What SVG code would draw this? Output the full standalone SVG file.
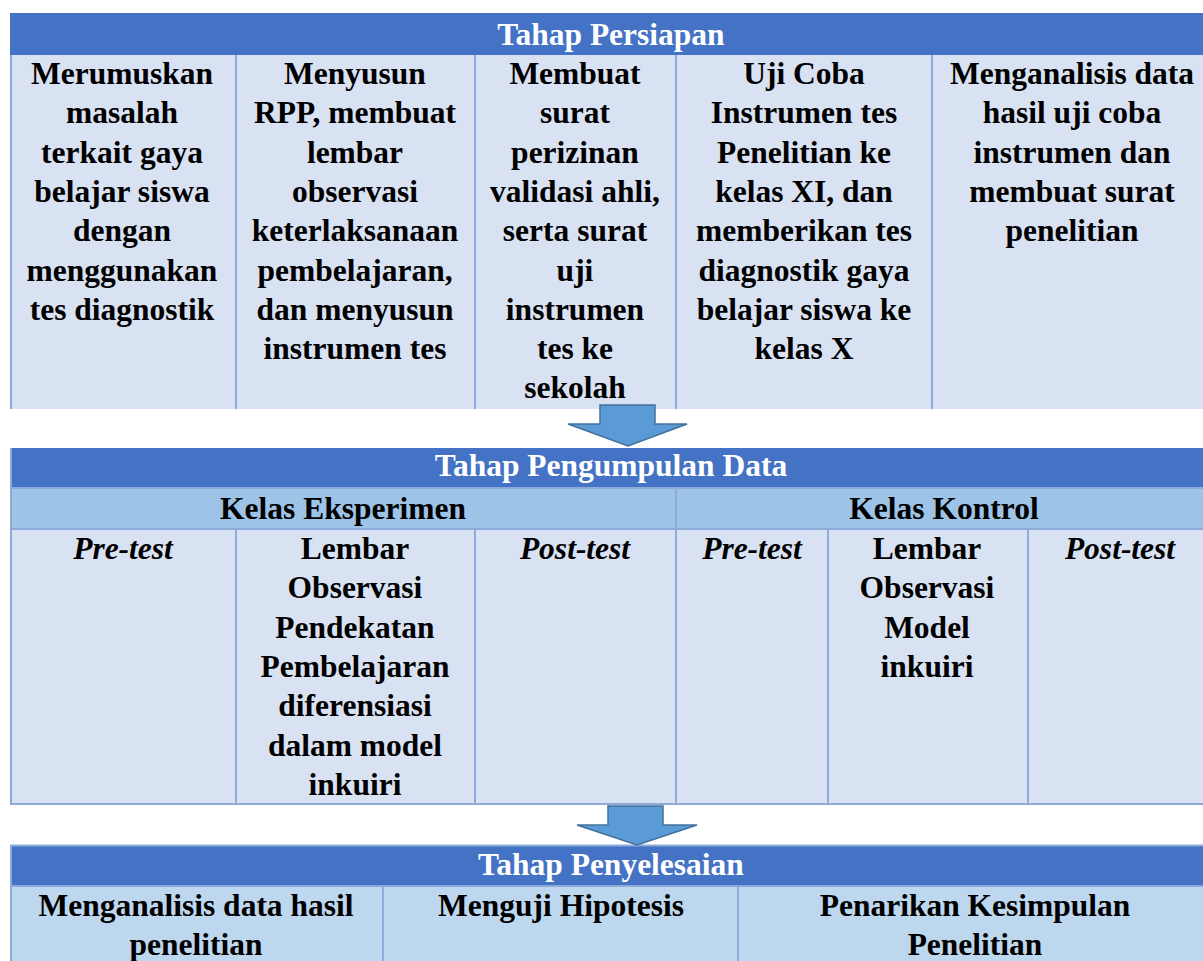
<svg xmlns="http://www.w3.org/2000/svg" width="1203" height="961" viewBox="0 0 1203 961">
<style>
text{font-family:'Liberation Serif','DejaVu Serif',serif;font-weight:700;font-size:31.5px;text-anchor:middle;fill:#000}
.hd{fill:#4472C4}
.hdt{fill:#fff}
.cell{fill:#D9E2F3}
.sub{fill:#9DC3E6}
.fin{fill:#BDD7EE}
.bd{stroke:#8EAADB;stroke-width:2;fill:none}
.it{font-style:italic}
.arrow{fill:#5B9BD5;stroke:#41719C;stroke-width:1.5;stroke-linejoin:miter}
</style>
<rect width="1203" height="961" fill="#fff"/>

<g id="persiapan">
<rect class="hd" x="10" y="13" width="1202" height="42"/>
<rect class="cell" x="10" y="55" width="1202" height="354"/>
<path class="bd" d="M11,55V409M236,55V409M475,55V409M676,55V409M932,55V409"/>
<text class="hdt" x="611" y="45" font-family="Liberation Serif">Tahap Persiapan</text>
</g>
<g id="p1"><text x="122" y="84"><tspan x="122">Merumuskan</tspan><tspan x="122" dy="39.3">masalah</tspan><tspan x="122" dy="39.3">terkait gaya</tspan><tspan x="122" dy="39.3">belajar siswa</tspan><tspan x="122" dy="39.3">dengan</tspan><tspan x="122" dy="39.3">menggunakan</tspan><tspan x="122" dy="39.3">tes diagnostik</tspan></text></g>
<g id="p2"><text x="355" y="84"><tspan x="355">Menyusun</tspan><tspan x="355" dy="39.3">RPP, membuat</tspan><tspan x="355" dy="39.3">lembar</tspan><tspan x="355" dy="39.3">observasi</tspan><tspan x="355" dy="39.3">keterlaksanaan</tspan><tspan x="355" dy="39.3">pembelajaran,</tspan><tspan x="355" dy="39.3">dan menyusun</tspan><tspan x="355" dy="39.3">instrumen tes</tspan></text></g>
<g id="p3"><text x="575" y="84"><tspan x="575">Membuat</tspan><tspan x="575" dy="39.3">surat</tspan><tspan x="575" dy="39.3">perizinan</tspan><tspan x="575" dy="39.3">validasi ahli,</tspan><tspan x="575" dy="39.3">serta surat</tspan><tspan x="575" dy="39.3">uji</tspan><tspan x="575" dy="39.3">instrumen</tspan><tspan x="575" dy="39.3">tes ke</tspan><tspan x="575" dy="39.3">sekolah</tspan></text></g>
<g id="p4"><text x="804" y="84"><tspan x="804">Uji Coba</tspan><tspan x="804" dy="39.3">Instrumen tes</tspan><tspan x="804" dy="39.3">Penelitian ke</tspan><tspan x="804" dy="39.3">kelas XI, dan</tspan><tspan x="804" dy="39.3">memberikan tes</tspan><tspan x="804" dy="39.3">diagnostik gaya</tspan><tspan x="804" dy="39.3">belajar siswa ke</tspan><tspan x="804" dy="39.3">kelas X</tspan></text></g>
<g id="p5"><text x="1072" y="84"><tspan x="1072">Menganalisis data</tspan><tspan x="1072" dy="39.3">hasil uji coba</tspan><tspan x="1072" dy="39.3">instrumen dan</tspan><tspan x="1072" dy="39.3">membuat surat</tspan><tspan x="1072" dy="39.3">penelitian</tspan></text></g>

<g id="pengumpulan">
<rect class="hd" x="10" y="448" width="1202" height="40"/>
<rect class="sub" x="10" y="488" width="1202" height="41"/>
<rect class="cell" x="10" y="529" width="1202" height="275"/>
<path class="bd" d="M11,448V805M10,488H1212M10,529H1212M10,804H1212M676,488V804M236,529V804M475,529V804M828,529V804M1028,529V804"/>
<text class="hdt" x="611" y="476">Tahap Pengumpulan Data</text>
</g>
<g id="eksperimen"><text x="343" y="519">Kelas Eksperimen</text></g>
<g id="kontrol"><text x="944" y="519">Kelas Kontrol</text></g>
<g id="e-pre"><text class="it" x="123" y="559">Pre-test</text></g>
<g id="e-obs"><text x="355" y="559"><tspan x="355">Lembar</tspan><tspan x="355" dy="39.3">Observasi</tspan><tspan x="355" dy="39.3">Pendekatan</tspan><tspan x="355" dy="39.3">Pembelajaran</tspan><tspan x="355" dy="39.3">diferensiasi</tspan><tspan x="355" dy="39.3">dalam model</tspan><tspan x="355" dy="39.3">inkuiri</tspan></text></g>
<g id="e-post"><text class="it" x="575" y="559">Post-test</text></g>
<g id="k-pre"><text class="it" x="752" y="559">Pre-test</text></g>
<g id="k-obs"><text x="927" y="559"><tspan x="927">Lembar</tspan><tspan x="927" dy="39.3">Observasi</tspan><tspan x="927" dy="39.3">Model</tspan><tspan x="927" dy="39.3">inkuiri</tspan></text></g>
<g id="k-post"><text class="it" x="1120" y="559">Post-test</text></g>

<g id="penyelesaian">
<rect class="hd" x="10" y="846" width="1202" height="40"/>
<rect class="fin" x="10" y="886" width="1202" height="75"/>
<path class="bd" d="M10,845.5H1212M11,845V961M10,886H1212M383,886V961M738,886V961"/>
<text class="hdt" x="611" y="875">Tahap Penyelesaian</text>
</g>
<g id="s1"><text x="196" y="916"><tspan x="196">Menganalisis data hasil</tspan><tspan x="196" dy="39.3">penelitian</tspan></text></g>
<g id="s2"><text x="561" y="916">Menguji Hipotesis</text></g>
<g id="s3"><text x="975" y="916"><tspan x="975">Penarikan Kesimpulan</tspan><tspan x="975" dy="39.3">Penelitian</tspan></text></g>

<g id="connectors">
<polygon class="arrow" points="600,405 655,405 655,424 687,424 628,446 568,424 600,424"/>
<polygon class="arrow" points="608,806 663,806 663,825 697,825 637,845 577,825 608,825"/>
</g>
</svg>
